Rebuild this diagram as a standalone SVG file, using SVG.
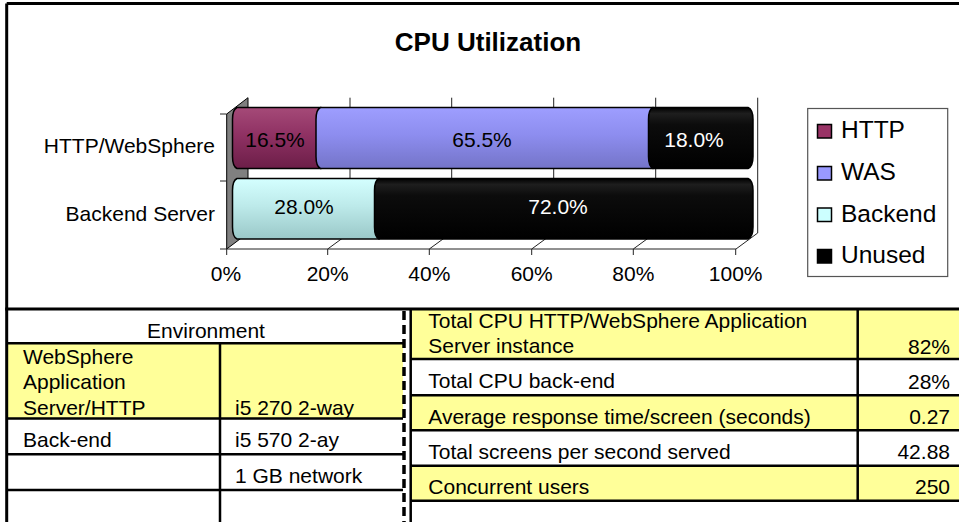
<svg xmlns="http://www.w3.org/2000/svg" width="959" height="522" viewBox="0 0 959 522">
<defs>
<linearGradient id="gHttp" x1="0" y1="0" x2="0" y2="1"><stop offset="0" stop-color="#a54a78"/><stop offset="0.45" stop-color="#8f3163"/><stop offset="1" stop-color="#6c1e48"/></linearGradient>
<linearGradient id="gWas" x1="0" y1="0" x2="0" y2="1"><stop offset="0" stop-color="#9e9eff"/><stop offset="0.45" stop-color="#8d8def"/><stop offset="1" stop-color="#7474c8"/></linearGradient>
<linearGradient id="gBack" x1="0" y1="0" x2="0" y2="1"><stop offset="0" stop-color="#d4ffff"/><stop offset="0.45" stop-color="#bdeaea"/><stop offset="1" stop-color="#9ac8c8"/></linearGradient>
<linearGradient id="gUn" x1="0" y1="0" x2="0" y2="1"><stop offset="0" stop-color="#000"/><stop offset="0.1" stop-color="#1e1e1e"/><stop offset="0.28" stop-color="#0c0c0c"/><stop offset="1" stop-color="#000"/></linearGradient>
</defs>
<style>
text{font-family:"Liberation Sans",Arial,sans-serif;fill:#000}
.ax{font-size:21px}
.lg{font-size:24.5px}
.tb{font-size:21px}
.w{fill:#fff}
.grid{stroke:#222;stroke-width:1;fill:none}
.seg{stroke:#000;stroke-width:1.5}
.ln{stroke:#000;stroke-width:2.5;fill:none}
.yl{fill:#ffff99}
</style>
<rect x="0" y="0" width="959" height="522" fill="#fff"/>

<g id="chart">
<text x="488" y="51" font-size="26" font-weight="bold" text-anchor="middle">CPU Utilization</text>
<g id="walls">
<polygon points="226.7,114 248,97.7 248,233 226.7,249" fill="#808080" stroke="#000" stroke-width="1"/>
<path class="grid" d="M350,97.7V233M451.7,97.7V233M553.7,97.7V233M655.7,97.7V233M757.7,97.7V233"/>
<path class="grid" d="M226.7,249H736L757.7,233M327.7,249L349.5,233M429.3,249L451.2,233M531.7,249L553.5,233M633.3,249L655.2,233"/>
<path class="grid" d="M220,114H226.7M220,181H226.7M220,249H226.7M226.7,249V255M327.7,249V255M429.3,249V255M531.7,249V255M633.3,249V255M735.7,249V255"/>
</g>
<g id="bar-http">
<path class="seg" fill="url(#gHttp)" d="M237,107.5 L321,107.5 Q325.5,109.5 325.5,119.5 L325.5,156.5 Q325.5,166.5 321,168.5 L237,168.5 Q232.5,166.5 232.5,156.5 L232.5,119.5 Q232.5,109.5 237,107.5 Z"/>
<path class="seg" fill="url(#gWas)" d="M320.5,107.5 L653,107.5 Q657.5,109.5 657.5,119.5 L657.5,156.5 Q657.5,166.5 653,168.5 L320.5,168.5 Q316,166.5 316,156.5 L316,119.5 Q316,109.5 320.5,107.5 Z"/>
<path class="seg" fill="url(#gUn)" d="M653,107.5 L748,107.5 Q753,109.5 753,119.5 L753,156.5 Q753,166.5 748,168.5 L653,168.5 Q648.5,166.5 648.5,156.5 L648.5,119.5 Q648.5,109.5 653,107.5 Z"/>
<text class="ax" x="275" y="146.7" text-anchor="middle">16.5%</text>
<text class="ax" x="482" y="146.7" text-anchor="middle">65.5%</text>
<text class="ax w" x="694" y="146.7" text-anchor="middle">18.0%</text>
</g>
<g id="bar-backend">
<path class="seg" fill="url(#gBack)" d="M237,178.5 L379,178.5 Q383.5,180.5 383.5,190.5 L383.5,227 Q383.5,237 379,239 L237,239 Q232.5,237 232.5,227 L232.5,190.5 Q232.5,180.5 237,178.5 Z"/>
<path class="seg" fill="url(#gUn)" d="M379,178.5 L748,178.5 Q753,180.5 753,190.5 L753,227 Q753,237 748,239 L379,239 Q374.5,237 374.5,227 L374.5,190.5 Q374.5,180.5 379,178.5 Z"/>
<text class="ax" x="304" y="214.3" text-anchor="middle">28.0%</text>
<text class="ax w" x="558" y="214.3" text-anchor="middle">72.0%</text>
</g>
<g id="axis-labels">
<text class="ax" x="215" y="153" text-anchor="end">HTTP/WebSphere</text>
<text class="ax" x="215" y="220.7" text-anchor="end">Backend Server</text>
<text class="ax" x="226" y="281" text-anchor="middle">0%</text>
<text class="ax" x="327.7" y="281" text-anchor="middle">20%</text>
<text class="ax" x="429.3" y="281" text-anchor="middle">40%</text>
<text class="ax" x="531.7" y="281" text-anchor="middle">60%</text>
<text class="ax" x="633.3" y="281" text-anchor="middle">80%</text>
<text class="ax" x="735.7" y="281" text-anchor="middle">100%</text>
</g>
<g id="legend">
<rect x="807.7" y="108.5" width="140" height="168" fill="#fff" stroke="#555" stroke-width="1.2"/>
<rect x="817.5" y="124.5" width="14" height="13.5" fill="#993366" stroke="#000" stroke-width="1.5"/>
<rect x="817.5" y="166.5" width="14" height="13.5" fill="#9999ff" stroke="#000" stroke-width="1.5"/>
<rect x="817.5" y="208" width="14" height="13.5" fill="#ccffff" stroke="#000" stroke-width="1.5"/>
<rect x="817.5" y="249.5" width="14" height="13.5" fill="#000" stroke="#000" stroke-width="1.5"/>
<text class="lg" x="841" y="137.7">HTTP</text>
<text class="lg" x="841" y="180">WAS</text>
<text class="lg" x="841" y="221.7">Backend</text>
<text class="lg" x="841" y="263.3">Unused</text>
</g>
</g>

<g id="env-table">
<rect class="yl" x="8" y="343.3" width="395" height="75.2"/>
<path class="ln" d="M6.7,343.3H403M6.7,418.5H403M6.7,454.3H403M6.7,490H403M220,343.3V522"/>
<text class="tb" x="206" y="338.3" text-anchor="middle">Environment</text>
<text class="tb" x="23" y="364">WebSphere</text>
<text class="tb" x="23" y="389">Application</text>
<text class="tb" x="23" y="415">Server/HTTP</text>
<text class="tb" x="235" y="415">i5 270 2-way</text>
<text class="tb" x="23" y="446.7">Back-end</text>
<text class="tb" x="235" y="446.7">i5 570 2-ay</text>
<text class="tb" x="235" y="483.3">1 GB network</text>
</g>

<g id="results-table">
<rect class="yl" x="411" y="309" width="548" height="50"/>
<rect class="yl" x="411" y="395.3" width="548" height="35"/>
<rect class="yl" x="411" y="465.7" width="548" height="35"/>
<path class="ln" d="M410.7,359H959M410.7,395.3H959M410.7,430.3H959M410.7,465.7H959M410.7,500.7H959M857.7,309V500.7M410.7,309V522"/>
<text class="tb" x="428.3" y="328.3">Total CPU HTTP/WebSphere Application</text>
<text class="tb" x="428.3" y="353.3">Server instance</text>
<text class="tb" x="428.3" y="388.3">Total CPU back-end</text>
<text class="tb" x="428.3" y="424">Average response time/screen (seconds)</text>
<text class="tb" x="428.3" y="459">Total screens per second served</text>
<text class="tb" x="428.3" y="494">Concurrent users</text>
<text class="tb" x="950" y="354" text-anchor="end">82%</text>
<text class="tb" x="950" y="389" text-anchor="end">28%</text>
<text class="tb" x="950" y="424.3" text-anchor="end">0.27</text>
<text class="tb" x="950" y="459.3" text-anchor="end">42.88</text>
<text class="tb" x="950" y="494" text-anchor="end">250</text>
</g>

<g id="frame">
<path d="M6.7,3.5H959M6.7,3.5V522" stroke="#000" stroke-width="3" fill="none"/>
<path d="M5.2,309H959" stroke="#000" stroke-width="3" fill="none"/>
<path d="M404,311V522" stroke="#000" stroke-width="3.5" stroke-dasharray="9,5" fill="none"/>
</g>
</svg>
